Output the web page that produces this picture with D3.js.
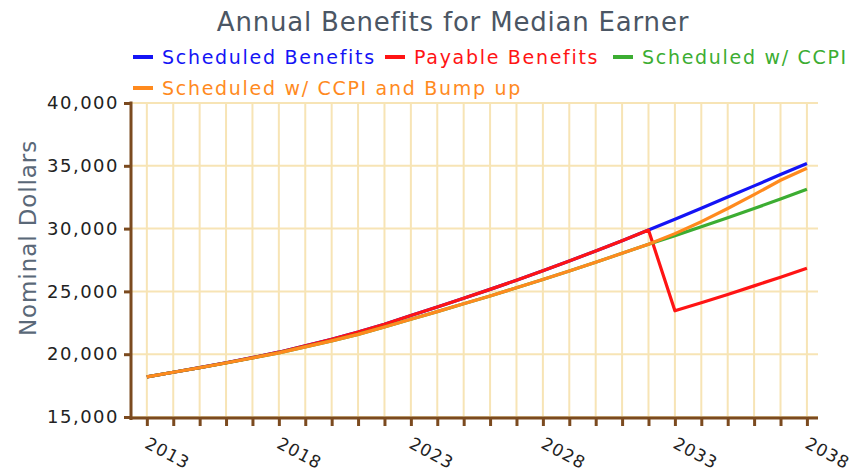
<!DOCTYPE html>
<html>
<head>
<meta charset="utf-8">
<script src="https://cdn.jsdelivr.net/npm/d3@7"></script>
<style>
  body { margin: 0; background: #fff; }
  svg { display: block; font-family: "DejaVu Sans", Verdana, sans-serif; }
</style>
</head>
<body>
<div id="chart"></div>
<script>
// years on the x axis
var years = [2013, 2014, 2015, 2016, 2017, 2018, 2019, 2020, 2021, 2022, 2023, 2024, 2025,
             2026, 2027, 2028, 2029, 2030, 2031, 2032, 2033, 2034, 2035, 2036, 2037, 2038];
var yearLabels = [2013, 2018, 2023, 2028, 2033, 2038];
var valueTicks = [15000, 20000, 25000, 30000, 35000, 40000];

// series values (nominal dollars)
var scheduled = [18200, 18560, 18930, 19320, 19730, 20160, 20660, 21190, 21760, 22390, 23080, 23760, 24450,
                 25160, 25890, 26640, 27420, 28220, 29040, 29880, 30740, 31620, 32510, 33400, 34300, 35180];
var payable = [18200, 18560, 18930, 19320, 19730, 20160, 20660, 21190, 21760, 22390, 23080, 23760, 24450,
               25160, 25890, 26640, 27420, 28220, 29040, 29880, 23460, 24100, 24760, 25440, 26130, 26840];
var ccpi = [18200, 18560, 18920, 19300, 19700, 20110, 20580, 21060, 21580, 22170, 22780, 23390, 24010,
            24640, 25290, 25950, 26630, 27320, 28030, 28750, 29440, 30140, 30860, 31600, 32360, 33130];
var ccpiBump = [18200, 18560, 18920, 19300, 19700, 20110, 20580, 21060, 21580, 22170, 22780, 23390, 24010,
                24640, 25290, 25950, 26630, 27320, 28030, 28750, 29600, 30550, 31600, 32700, 33850, 34800];

var seriesNames = ["Scheduled Benefits", "Payable Benefits", "Scheduled w/ CCPI", "Scheduled w/ CCPI and Bump up"];
var seriesColors = ["#1414f5", "#ff1414", "#3cad32", "#ff8a1e"];
var seriesValues = [scheduled, payable, ccpi, ccpiBump];

var width = 855, height = 472;
var plotLeft = 131, plotRight = 818, plotTop = 103, plotBottom = 417;

var svg = d3.select("#chart").append("svg")
    .attr("width", width).attr("height", height);

var x = d3.scaleLinear().domain([2012.4, 2038.42]).range([plotLeft, plotRight]);
var y = d3.scaleLinear().domain([15000, 40000]).range([plotBottom, plotTop]);

// grid
var gridColor = "#f7e4b5";
svg.append("g").selectAll("line").data(years)
    .enter().append("line")
    .attr("x1", function (d) { return x(d); }).attr("x2", function (d) { return x(d); })
    .attr("y1", plotTop).attr("y2", plotBottom)
    .attr("stroke", gridColor).attr("stroke-width", 2);
svg.append("g").selectAll("line").data(valueTicks)
    .enter().append("line")
    .attr("x1", plotLeft).attr("x2", plotRight)
    .attr("y1", function (d) { return y(d); }).attr("y2", function (d) { return y(d); })
    .attr("stroke", gridColor).attr("stroke-width", 2);

// lines
var line = d3.line()
    .x(function (d, i) { return x(years[i]); })
    .y(function (d) { return y(d); });
seriesValues.forEach(function (vals, i) {
    svg.append("path").datum(vals)
        .attr("d", line)
        .attr("fill", "none")
        .attr("stroke", seriesColors[i])
        .attr("stroke-width", 3.2)
        .attr("stroke-linejoin", "round");
});

// axes
var axisColor = "#7b4a1f";
var yAxis = svg.append("g").attr("transform", "translate(" + plotLeft + ",0)")
    .call(d3.axisLeft(y).tickValues(valueTicks).tickFormat(d3.format(",")).tickSizeInner(7).tickSizeOuter(0).tickPadding(5));
var xAxis = svg.append("g").attr("transform", "translate(0," + (plotBottom + 1) + ")")
    .call(d3.axisBottom(x).tickValues(years).tickFormat("").tickSizeInner(8).tickSizeOuter(0));

[yAxis, xAxis].forEach(function (g) {
    g.select(".domain").attr("stroke", axisColor).attr("stroke-width", 3);
    g.selectAll(".tick line").attr("stroke", axisColor).attr("stroke-width", 3);
});
xAxis.select(".domain").attr("d", "M" + (plotLeft - 1.5) + ",0H" + plotRight);
yAxis.select(".domain").attr("d", "M0," + (plotBottom + 3) + "V" + (plotTop - 1.5));
yAxis.selectAll(".tick text")
    .attr("font-family", "DejaVu Sans, sans-serif")
    .attr("font-size", 18).attr("letter-spacing", 1.5).attr("fill", "#222");

// rotated year labels
svg.append("g").selectAll("text").data(yearLabels)
    .enter().append("text")
    .attr("transform", function (d) { return "translate(" + (x(d) + 3) + "," + 436 + ") rotate(28)"; })
    .attr("dy", "0.75em")
    .attr("font-size", 17).attr("letter-spacing", 1).attr("fill", "#222")
    .text(function (d) { return d; });

// axis title
svg.append("text")
    .attr("transform", "translate(36,238) rotate(-90)")
    .attr("text-anchor", "middle")
    .attr("font-size", 23).attr("letter-spacing", 0.9).attr("fill", "#5a6878")
    .text("Nominal Dollars");

// chart title
svg.append("text")
    .attr("x", 453).attr("y", 31)
    .attr("text-anchor", "middle")
    .attr("font-size", 26).attr("letter-spacing", 0.8).attr("fill", "#4b5664")
    .text("Annual Benefits for Median Earner");

// legend
var legendPos = [[133, 57], [385, 57], [613, 57], [133, 88]];
var legend = svg.append("g").selectAll("g").data(seriesNames)
    .enter().append("g")
    .attr("transform", function (d, i) { return "translate(" + legendPos[i][0] + "," + legendPos[i][1] + ")"; });
legend.append("line")
    .attr("x1", 0).attr("x2", 20).attr("y1", 0).attr("y2", 0)
    .attr("stroke", function (d, i) { return seriesColors[i]; })
    .attr("stroke-width", 4);
legend.append("text")
    .attr("x", 29).attr("y", 7)
    .attr("font-size", 19).attr("letter-spacing", 1.7)
    .attr("fill", function (d, i) { return seriesColors[i]; })
    .text(function (d) { return d; });
</script>
</body>
</html>
